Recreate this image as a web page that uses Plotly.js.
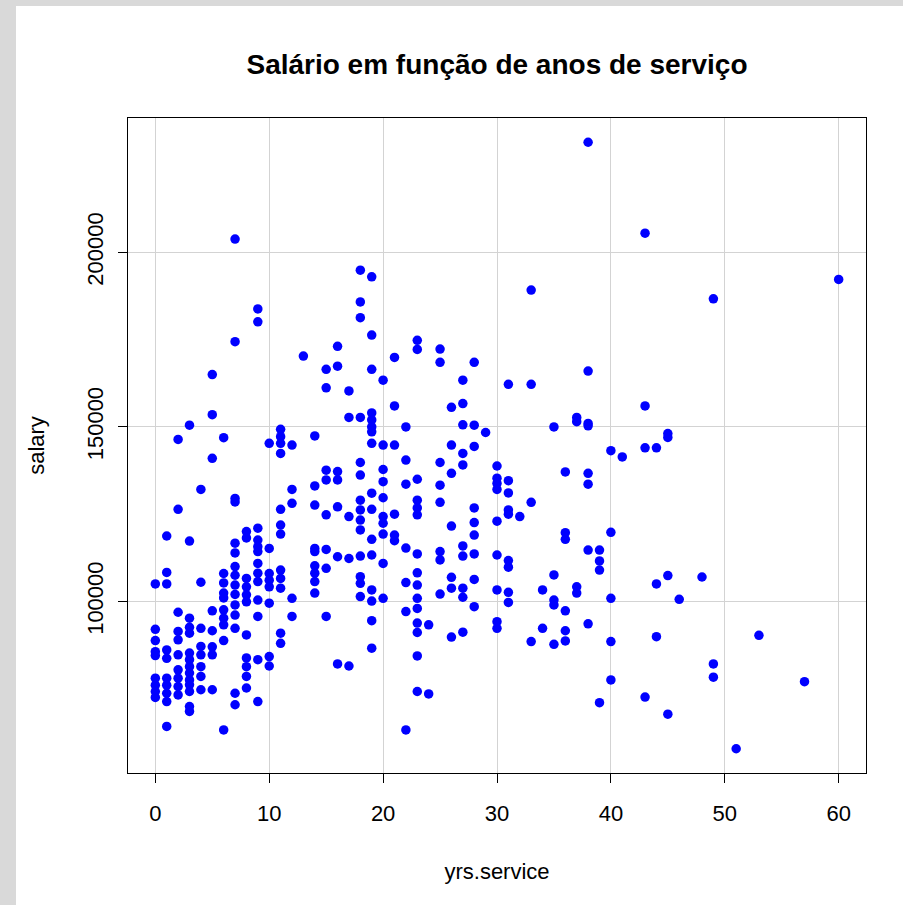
<!DOCTYPE html>
<html>
<head>
<meta charset="utf-8">
<script src="https://cdn.plot.ly/plotly-3.0.1.min.js"></script>
<style>
  html, body { margin: 0; padding: 0; background: #d9d9d9; width: 903px; height: 905px; overflow: hidden; }
  #chart { position: absolute; left: 16px; top: 6px; width: 887px; height: 899px; background: #ffffff; }
</style>
</head>
<body>
<div id="chart"></div>
<script>
// Salaries data (yrs.service, salary)
const yrsService = [
  0,0,0,0,0,0,0,0,0,
  1,1,1,1,1,1,1,1,1,1,
  2,2,2,2,2,2,2,2,2,2,
  3,3,3,3,3,3,3,3,3,3,3,3,3,3,
  4,4,4,4,4,4,4,4,
  5,5,5,5,5,5,5,5,
  6,6,6,6,6,6,6,6,6,6,
  7,7,7,7,7,7,7,7,7,7,7,7,7,7,7,
  8,8,8,8,8,8,8,8,8,8,8,
  9,9,9,9,9,9,9,9,9,9,9,9,9,
  10,10,10,10,10,10,10,10,
  11,11,11,11,11,11,11,11,11,11,11,11,
  12,12,12,12,12,
  13,
  14,14,14,14,14,14,14,14,14,
  15,15,15,15,15,15,15,15,
  16,16,16,16,16,16,16,
  17,17,17,17,17,
  18,18,18,18,18,18,18,18,18,18,18,18,18,18,
  19,19,19,19,19,19,19,19,19,19,19,19,19,19,19,19,
  20,20,20,20,20,20,20,20,20,20,
  21,21,21,21,21,21,
  22,22,22,22,22,22,22,
  23,23,23,23,23,23,23,23,23,23,23,23,23,23,23,
  24,24,
  25,25,25,25,25,25,25,25,
  26,26,26,26,26,26,26,
  27,27,27,27,27,27,27,27,27,27,
  28,28,28,28,28,28,28,28,28,
  29,
  30,30,30,30,30,30,30,30,30,
  31,31,31,31,31,31,31,31,31,
  32,
  33,33,33,33,
  34,34,
  35,35,35,35,35,
  36,36,36,36,36,36,
  37,37,37,37,
  38,38,38,38,38,38,38,38,
  39,39,39,39,
  40,40,40,40,40,
  41,
  43,43,43,43,
  44,44,44,
  45,45,45,45,
  46,
  48,
  49,49,49,
  51,
  53,
  57,
  60
];
const salary = [
  105000,92000,88800,85600,84500,78000,76000,74200,72500,
  118750,108300,105000,86100,83700,78000,76000,73700,71300,64200,
  146400,126400,96900,91400,89000,84700,80400,78000,75600,73200,
  150500,117300,95200,92600,90900,85200,83300,81300,79500,77500,76100,74200,69900,68500,
  132100,105500,92300,87100,84700,81300,78500,74700,
  165000,153500,141000,97300,91600,87000,84700,74700,
  146900,108000,105300,102400,101000,97600,95200,93300,88800,63200,
  203800,174400,129500,128500,116700,113900,110000,107500,104700,102000,99000,96100,92300,73700,70400,
  120000,118200,106600,104200,101900,99900,90400,83800,81300,78500,75200,
  183800,180100,121000,117600,115700,114300,110900,108100,105700,100400,95700,83300,71300,
  145300,115200,108000,106100,104200,99500,84200,81500,
  149300,147200,145300,142400,126400,121900,119300,109000,106600,103800,90900,88000,
  144800,132100,128100,100900,95700,
  170300,
  147400,133100,127600,115200,114300,110200,108100,105700,102400,
  166500,161200,137600,134800,124800,114900,109500,95700,
  173100,167400,137200,134800,127100,112800,82100,
  160300,152700,124300,112300,81500,
  194900,185800,181300,152700,139800,136200,129000,126200,123300,120500,113000,107100,105200,101400,
  193000,176300,166500,154000,152000,150000,148600,145300,131000,126400,117800,113300,103300,100100,94500,86600,
  163400,144800,137800,134300,129700,124300,122400,119300,110900,100900,
  169900,156000,144800,125000,119000,117400,
  150000,140500,133600,115300,105400,97100,63200,
  174800,172200,135000,129000,126800,124800,113600,108200,104700,100900,98000,93800,91100,84400,74200,
  93300,73500,
  172300,168500,139800,133300,128400,114300,111900,102100,
  155600,144800,136700,121600,106900,103800,89800,
  163400,156700,150600,142400,139100,115900,113000,103800,101200,91200,
  168500,150500,144400,126800,122600,119000,113600,106300,98500,
  148400,
  138800,135300,133800,132100,123000,113300,103300,94200,92300,
  162200,134600,131100,126200,125000,111700,109800,102600,99700,
  124300,
  189200,162200,128400,88500,
  103300,92300,
  150000,107600,100400,99000,87700,
  137100,119700,117800,97300,91600,88700,
  152700,151500,104200,102400,
  231545,166000,151000,150300,136700,133600,114700,93600,
  114700,111600,109000,71000,
  143200,119800,100900,88500,77500,
  141400,
  205500,156000,144000,72600,
  144000,105000,89900,
  148100,147000,107400,67700,
  100600,
  107000,
  186700,82100,78300,
  57800,
  90300,
  77000,
  192253
];
const xTicks = [0, 10, 20, 30, 40, 50, 60];
const yTicks = [100000, 150000, 200000];
const chartTitle = "Salário em função de anos de serviço";
const xLabel = "yrs.service";
const yLabel = "salary";

const FONT = "Liberation Sans, Arial, sans-serif";

const trace = {
  type: "scatter",
  mode: "markers",
  x: yrsService,
  y: salary,
  marker: { color: "#0000ff", size: 9.5, line: { width: 0 } },
  hoverinfo: "x+y"
};

const layout = {
  width: 887,
  height: 899,
  margin: { l: 112, r: 37, t: 112, b: 132 },
  paper_bgcolor: "#ffffff",
  plot_bgcolor: "#ffffff",
  showlegend: false,
  font: { family: FONT, color: "#000000", size: 22 },
  title: {
    text: "<b>" + chartTitle + "</b>",
    font: { family: FONT, size: 28, color: "#000000" },
    x: 0.5, xref: "paper",
    y: 1 - 58 / 899, yref: "container", yanchor: "middle"
  },
  xaxis: {
    range: [-2.4, 62.4],
    tickvals: xTicks,
    ticktext: xTicks.map(String),
    ticks: "outside",
    ticklen: 9,
    tickwidth: 1,
    tickcolor: "#000000",
    ticklabelstandoff: 12,
    showline: true, linecolor: "#000000", linewidth: 1, mirror: true,
    showgrid: true, gridcolor: "#d3d3d3", gridwidth: 1,
    zeroline: false,
    tickfont: { family: FONT, size: 22, color: "#000000" },
    title: { text: xLabel, font: { family: FONT, size: 22, color: "#000000" }, standoff: 38 }
  },
  yaxis: {
    range: [50850, 238495],
    tickvals: yTicks,
    ticktext: yTicks.map(String),
    tickangle: -90,
    ticks: "outside",
    ticklen: 9,
    tickwidth: 1,
    tickcolor: "#000000",
    ticklabelstandoff: 6,
    showline: true, linecolor: "#000000", linewidth: 1, mirror: true,
    showgrid: true, gridcolor: "#d3d3d3", gridwidth: 1,
    zeroline: false,
    tickfont: { family: FONT, size: 22, color: "#000000" },
    title: { text: yLabel, font: { family: FONT, size: 22, color: "#000000" }, standoff: 32 }
  }
};

Plotly.newPlot("chart", [trace], layout, { displayModeBar: false, staticPlot: true });
</script>
</body>
</html>
